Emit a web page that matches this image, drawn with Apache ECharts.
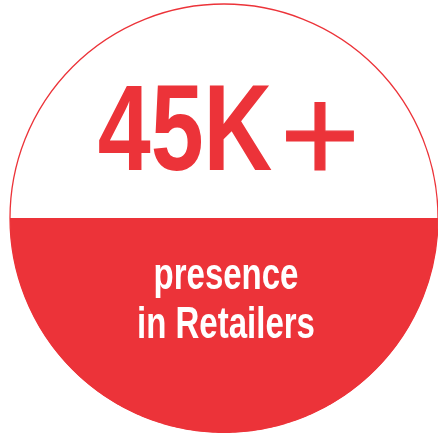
<!DOCTYPE html>
<html>
<head>
<meta charset="utf-8">
<script src="https://cdn.jsdelivr.net/npm/echarts@6/dist/echarts.min.js"></script>
<style>
html,body{margin:0;padding:0;background:#fff;}
#c{width:438px;height:434px;}
</style>
</head>
<body>
<div id="c"></div>
<script>
// Data
const fillLevels = [0.5];              // fraction of the circle filled from the bottom
const headlineParts = ['45K', '+'];
const captionLines = ['presence', 'in Retailers'];

const RED = '#EC3339';

const chart = echarts.init(document.getElementById('c'), null, {renderer: 'canvas'});

function renderItem(params, api) {
  const level = api.value(0);
  const c = api.coord([0, 0]);
  const e = api.coord([1, 0]);
  const r = e[0] - c[0];
  const yl = -1 + 2 * level;
  const a = Math.asin(Math.max(-1, Math.min(1, yl)));
  const pts = [];
  const N = 240;
  const t0 = Math.PI - a, t1 = 2 * Math.PI + a;
  for (let i = 0; i <= N; i++) {
    const t = t0 + (t1 - t0) * i / N;
    pts.push(api.coord([Math.cos(t), Math.sin(t)]));
  }
  return {
    type: 'group',
    children: [
      {type: 'circle', shape: {cx: c[0], cy: c[1], r: r}, style: {fill: '#fff', stroke: RED, lineWidth: 1.3}},
      {type: 'polygon', shape: {points: pts}, style: {fill: RED}}
    ]
  };
}

const FONT = '"Liberation Sans", Arial, sans-serif';
chart.setOption({
  animation: false,
  backgroundColor: '#fff',
  grid: {left: 10, top: 3, width: 430, height: 430},
  xAxis: {type: 'value', min: -1, max: 1, show: false},
  yAxis: {type: 'value', min: -1, max: 1, show: false},
  series: [{
    type: 'custom',
    renderItem: renderItem,
    data: fillLevels.map(v => [v]),
    silent: true,
    z: 1
  }],
  graphic: {
    elements: [
      {type: 'text', z: 100, x: 185, y: 136, scaleX: 0.78, style: {text: headlineParts[0], font: 'bold 122px ' + FONT, fill: RED, align: 'center', verticalAlign: 'middle'}},
      {type: 'text', z: 100, x: 320, y: 144, style: {text: headlineParts[1], font: 'normal 137px ' + FONT, fill: RED, stroke: RED, lineWidth: 1.2, align: 'center', verticalAlign: 'middle'}},
      {type: 'text', z: 100, x: 226, y: 277, scaleX: 0.75, style: {text: captionLines[0], font: 'bold 44px ' + FONT, fill: '#fff', align: 'center', verticalAlign: 'middle'}},
      {type: 'text', z: 100, x: 226, y: 326, scaleX: 0.75, style: {text: captionLines[1], font: 'bold 44px ' + FONT, fill: '#fff', align: 'center', verticalAlign: 'middle'}}
    ]
  }
});
</script>
</body>
</html>
